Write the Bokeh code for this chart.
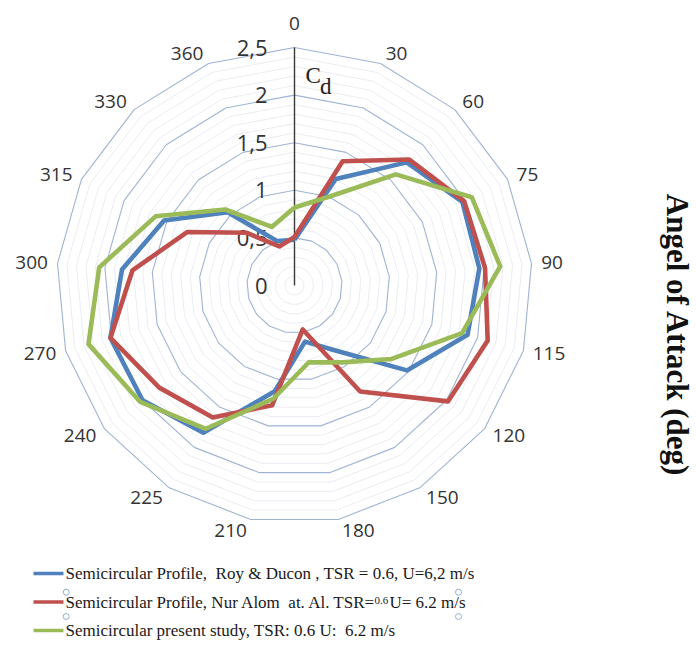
import numpy as np
from bokeh.plotting import figure
from bokeh.core.properties import value
from bokeh.embed import file_html
from bokeh.resources import INLINE

# ---------------- data ----------------
categories = ["0", "30", "60", "75", "90", "115", "120", "150", "180",
              "210", "225", "240", "270", "300", "315", "330", "360"]
roy_ducon = [0.48, 1.20, 1.75, 1.97, 1.95, 1.89, 1.48, 0.80, 0.60,
             1.13, 1.82, 2.00, 2.01, 1.82, 1.53, 1.04, 0.50]
nur_alom = [0.51, 1.40, 1.79, 1.99, 2.01, 2.11, 2.02, 1.31, 0.47,
            1.28, 1.63, 1.78, 2.01, 1.71, 1.26, 0.75, 0.44]
present_study = [0.82, 1.00, 1.58, 2.08, 2.17, 1.83, 1.28, 0.95, 0.82,
                 1.21, 1.77, 2.03, 2.25, 2.06, 1.63, 1.08, 0.66]
r_ticks = [0, 0.5, 1, 1.5, 2, 2.5]
r_tick_labels = ["0", "0,5", "1", "1,5", "2", "2,5"]
r_max = 2.5
r_minor_step = 0.1
NB = "\u00a0"
legend_labels = [
    "Semicircular Profile, " + NB + "Roy & Ducon , TSR = 0.6, U=6,2 m/s",
    ("Semicircular Profile, Nur Alom " + NB + "at. Al. TSR=", "0.6", "U= 6.2 m/s"),
    "Semicircular present study, TSR: 0.6 U: " + NB + "6.2 m/s",
]
axis_title = "Angel of Attack (deg)"
colors = ["#4F81BD", "#C0504D", "#9BBB59"]

# ---------------- layout ----------------
W, H = 696, 645
S = 95.2                      # pixels per Cd unit
CX, CY = 294, 285             # radar centre (px)

def px(x_page):
    return (x_page - CX) / S

def py(y_page):
    return (CY - y_page) / S

p = figure(width=W, height=H, output_backend="svg", toolbar_location=None,
           x_range=(-CX / S, (W - CX) / S), y_range=(-(H - CY) / S, CY / S),
           x_axis_type=None, y_axis_type=None, min_border=0,
           outline_line_color=None, background_fill_color="white")
p.grid.visible = False

n = len(categories)
theta = np.arange(n) * 2 * np.pi / n
st, ct = np.sin(theta), np.cos(theta)

# grid rings (17-gons)
minor_x, minor_y, major_x, major_y = [], [], [], []
for k in range(1, int(round(r_max / r_minor_step)) + 1):
    r = k * r_minor_step
    xs = list(r * st) + [r * st[0]]
    ys = list(r * ct) + [r * ct[0]]
    if k % 5 == 0:
        major_x.append(xs); major_y.append(ys)
    else:
        minor_x.append(xs); minor_y.append(ys)
p.multi_line(minor_x, minor_y, line_color="#e9ecf2", line_width=1)
p.multi_line(major_x, major_y, line_color="#9fb3d3", line_width=1.1)

# radial axis
p.line([0, 0], [0, r_max], line_color="#3a3a3a", line_width=1.4)
p.text(x=[-27 / S] * len(r_ticks), y=r_ticks, text=r_tick_labels,
       text_font=value("Open Sans"), text_font_size="22px",
       text_color="#333333", text_align="right", text_baseline="middle")

# Cd label
p.text(x=[px(305)], y=[py(75)], text=["C"], text_font=value("Liberation Serif"),
       text_font_size="23px", text_color="#222222", text_baseline="middle")
p.text(x=[px(319.5)], y=[py(86)], text=["d"], text_font=value("Liberation Serif"),
       text_font_size="23px", text_color="#222222", text_baseline="middle")

# category labels: beside each outer vertex (Excel-like placement)
cw = 10.6
base = r_max + 2 / S
lx, ly = [], []
for i, lab in enumerate(categories):
    ux, uy = st[i], ct[i]
    hw = len(lab) * cw / 2
    if abs(ux) < 1e-6:
        ox, oy = 0.0, 22.0 * np.sign(uy)
    else:
        ox = np.sign(ux) * (hw + 3 + 5 * abs(ux))
        oy = 9 * uy
    lx.append(base * ux + ox / S)
    ly.append(base * uy + oy / S)
p.text(x=lx, y=ly, text=categories, text_font=value("Open Sans"),
       text_font_size="19px", text_color="#333333",
       text_align="center", text_baseline="middle")

# series
for vals, col in zip([roy_ducon, nur_alom, present_study], colors):
    v = np.array(vals)
    xs = list(v * st) + [v[0] * st[0]]
    ys = list(v * ct) + [v[0] * ct[0]]
    p.line(xs, ys, line_color=col, line_width=4.6, line_join="round")

# legend (drawn manually)
leg_y = [573, 601.5, 630]
for yy, col in zip(leg_y, colors):
    p.line([px(33), px(63)], [py(yy), py(yy)], line_color=col, line_width=3.5)
font_leg = value("Liberation Serif")
p.text(x=[px(65)], y=[py(leg_y[0])], text=[legend_labels[0]], text_font=font_leg,
       text_font_size="17px", text_color="#1a1a1a", text_baseline="middle")
p.text(x=[px(65)], y=[py(leg_y[2])], text=[legend_labels[2]], text_font=font_leg,
       text_font_size="17px", text_color="#1a1a1a", text_baseline="middle")
a, b, c = legend_labels[1]
p.text(x=[px(65)], y=[py(leg_y[1])], text=[a], text_font=font_leg,
       text_font_size="17px", text_color="#1a1a1a", text_baseline="middle")
p.text(x=[px(374)], y=[py(leg_y[1] - 2)], text=[b], text_font=font_leg,
       text_font_size="11px", text_color="#1a1a1a", text_baseline="middle")
p.text(x=[px(389)], y=[py(leg_y[1])], text=[c], text_font=font_leg,
       text_font_size="17px", text_color="#1a1a1a", text_baseline="middle")
# text box handles
p.scatter([px(65.7), px(65.7), px(458), px(458)],
          [py(591.7), py(616), py(591.7), py(616)], size=6, marker="circle",
          fill_color="white", line_color="#8fb0d8", line_width=1)

# right title
p.text(x=[px(677)], y=[py(335)], text=[axis_title], angle=-np.pi / 2,
       text_font=value("Liberation Serif"), text_font_style="bold",
       text_font_size="31px", text_color="#111111",
       text_align="center", text_baseline="middle")

open("out.html", "w").write(file_html(p, INLINE))
